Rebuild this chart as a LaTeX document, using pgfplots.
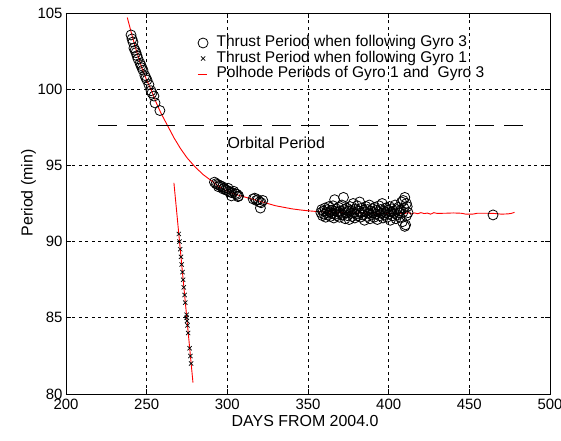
\documentclass[border=0pt]{standalone}
\usepackage{fontspec}
\setmainfont{Liberation Sans}
\usepackage{pgfplots}
\pgfplotsset{compat=1.18}
\pgfplotsset{shortlegend/.style={legend image code/.code={\draw[##1] (0.12cm,0cm) -- (0.45cm,0cm);}}}
\newcommand{\chartfont}{\fontsize{16}{18}\selectfont}
\newcommand{\tickfont}{\fontsize{15}{17}\selectfont}
\newcommand{\legfont}{\fontsize{15.6}{18}\selectfont}
\begin{document}
\begin{tikzpicture}
\path[use as bounding box] (-66bp,-47bp) rectangle (495bp,394bp);
\begin{axis}[
  at={(0,0)}, anchor=south west,
  scale only axis, width=484bp, height=381bp,
  xmin=200, xmax=500, ymin=80, ymax=105,
  xtick={200,250,300,350,400,450,500},
  ytick={80,85,90,95,100,105},
  /pgf/number format/assume math mode=true,
  /pgf/number format/1000 sep={},
  tick label style={font=\tickfont},
  xticklabel style={yshift=-2bp},
  label style={font=\chartfont},
  tick align=inside, major tick length=5bp,
  tick style={black, line width=0.8bp},
  axis line style={black, line width=0.9bp},
  grid=major,
  major grid style={black, line width=0.8bp, dash pattern=on 3bp off 3.5bp},
  xlabel={DAYS FROM 2004.0},
  ylabel={Period (min)},
  xlabel style={at={(axis description cs:0.494,-0.07)}, anchor=center},
  ylabel style={at={(axis description cs:-0.0775,0.528)}, anchor=center},
  legend style={at={(axis cs:281.5,103.54)}, anchor=north west, draw=none, fill=none,
    inner sep=0pt, outer sep=0pt, font=\legfont, row sep=0pt,
    nodes={inner sep=0.5bp, text height=11bp, text depth=3.5bp},
    /tikz/every odd column/.append style={column sep=8bp}},
  legend cell align=left,
  clip=true,
]
% Thrust period, Gyro 3 (circles)
\addplot[only marks, mark=o, mark size=5bp, black, line width=0.8bp] coordinates {
(240.3,103.56) (240.9,103.3) (241.5,103.1) (242.1,102.7) (242.8,102.55) (243.4,102.4)
(244.0,102.2) (244.6,102.0) (245.9,101.7) (246.5,101.55) (247.1,101.4) (247.7,101.25)
(248.9,100.9) (249.5,100.75) (250.2,100.6) (251.4,100.3) (252.7,99.9) (253.3,99.75)
(254.5,99.55) (255.2,99.1) (258.2,98.6)
(292,93.9) (293,93.8) (294,93.75) (294.5,93.6) (295,93.7) (296,93.65) (297,93.6) (297.5,93.45)
(298,93.5) (299,93.4) (300,93.35) (300.5,93.5) (301,93.3) (302,93.25) (302.5,93.0)
(303,93.2) (304,93.3) (305,93.15) (306,93.1) (306.6,92.95) (307,93.0)
(316,92.8) (317,92.85) (318,92.7) (319,92.75) (320,92.6) (321,92.55) (320.5,92.2) (322,92.7)
(358,91.9) (358.5,92.1) (359,91.7) (359.5,92.0) (360,91.8) (360.5,92.2) (361,91.6) (361.5,91.9)
(362,92.1) (362.5,91.75) (363,92.3) (363.5,91.95) (364,91.65) (364.5,92.05) (365,91.85)
(365.5,92.35) (366,91.55) (366.5,92.0) (366.5,92.75) (367,91.8) (367.5,92.15) (368,91.7)
(368.5,91.95) (369,92.25) (369.5,91.6) (370,92.0) (370.5,91.85) (371,92.4) (371.5,91.75)
(372,92.9) (372.5,92.1) (373,91.5) (373.5,91.9) (374,92.2) (374.5,91.7) (375,92.0)
(375.5,91.45) (376,92.3) (376.5,91.85) (377,92.05) (377.5,91.65) (378,92.5) (378.5,91.9)
(379,91.55) (379.5,92.15) (380,91.8) (380.5,92.35) (381,91.7) (381.5,92.0) (382,92.6)
(382.5,91.6) (383,91.9) (383.5,92.2) (384,91.75) (384.5,92.05) (385,91.4) (385.5,91.95)
(386,92.3) (386.5,91.65) (387,92.1) (387.5,91.85) (388,92.4) (388.5,91.5) (389,92.0)
(389.5,91.75) (390,92.15) (390.5,91.9) (391,91.6) (391.5,92.25) (392,91.8) (392.5,92.05)
(393,91.45) (393.5,91.95) (394,92.35) (394.5,91.7) (395,92.1) (395.5,91.85) (396,92.5)
(396.5,91.55) (397,92.0) (397.5,91.75) (398,92.2) (398.5,91.9) (399,91.6) (399.5,92.05)
(400,91.8) (400.5,92.3) (401,91.4) (401.5,91.95) (402,92.15) (402.5,91.7) (403,92.0)
(403.5,91.85) (404,92.4) (404.5,91.5) (405,92.1) (405.5,91.75) (406,92.25) (406.5,91.9)
(407,91.6) (407.5,92.05) (408,92.6) (408.5,91.3) (409,91.95) (409.5,92.2) (410,92.9)
(410.5,91.1) (411,91.7) (411.5,92.3) (412,91.9) (410,91.0) (409,92.7) (411,92.5)
(464.7,91.75)
};
\addlegendentry{Thrust Period when following Gyro 3}
% Thrust period, Gyro 1 (x marks)
\addplot[only marks, mark=x, mark size=3bp, black, line width=0.7bp] coordinates {
(269.9,90.5) (270.4,90.0) (270.8,89.5) (271.3,89.0) (271.7,88.5) (272.2,88.0) (272.6,87.5)
(273.0,87.0) (273.5,86.5) (273.9,86.0) (274.7,85.2) (274.8,85.0) (275.0,84.8) (275.3,84.5)
(275.7,84.0) (276.6,83.0) (277.1,82.5) (277.5,82.0)
};
\addlegendentry{Thrust Period when following Gyro 1}
% Polhode period Gyro 3
\addplot[red, line width=0.9bp, shortlegend] coordinates {
(238,104.7) (241,103.5) (244,102.4) (247,101.4) (250,100.6) (253,99.9) (256,99.1) (259,98.4)
(263,97.6) (267,96.8) (271,96.1) (275,95.5) (280,94.9) (285,94.4) (290,94.0) (295,93.6)
(300,93.3) (305,93.1) (310,92.95) (315,92.8) (320,92.65) (325,92.5) (330,92.35) (335,92.25)
(340,92.15) (345,92.08) (350,92.02) (355,91.98) (360,91.95) (370,91.9) (380,91.88)
(390,91.86) (400,91.85) (410,91.84) (412,91.9) (414,91.82) (416,91.88) (418,91.83)
(420,91.9) (422,91.84) (424,91.87) (426,91.8) (428,91.9) (430,91.85) (435,91.86)
(440,91.88) (445,91.86) (448,91.8) (452,91.8) (455,91.86) (460,91.86) (465,91.85)
(470,91.8) (474,91.82) (476,91.85) (478,91.92)
};
\addlegendentry{Polhode Periods of Gyro 1 and\ \ Gyro 3}
% Polhode period Gyro 1
\addplot[red, line width=0.9bp, forget plot] coordinates {
(266.9,93.85) (272.8,87.3) (278.7,80.75)
};
% Orbital period
\addplot[black, line width=0.9bp, dash pattern=on 19bp off 10bp, forget plot] coordinates {
(220,97.65) (487.5,97.65)
};
\node[anchor=west, inner sep=0pt, font=\chartfont] at (axis cs:300,96.5) {Orbital Period};
\end{axis}
\end{tikzpicture}
\end{document}
